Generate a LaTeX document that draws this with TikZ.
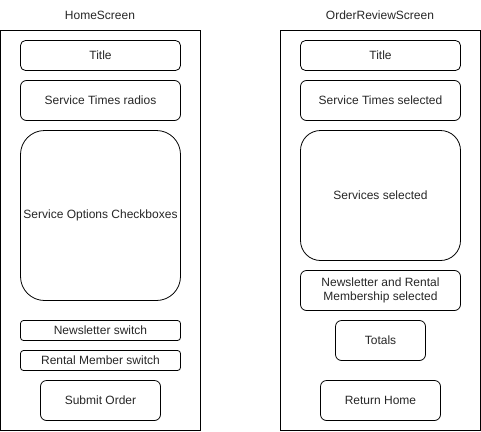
\documentclass[tikz,border=0pt]{standalone}
\usepackage{fontspec}
\setmainfont{Liberation Sans}
\begin{document}
\begin{tikzpicture}[x=1pt,y=-1pt,
  every node/.style={font=\fontsize{12}{14}\selectfont, text=black!85},
  frame/.style={draw, line width=0.8pt},
  rbox/.style={draw, line width=0.8pt, align=center}]
\useasboundingbox (0,0) rectangle (481,431);
% left
\node (hlabel) at (100,15) {HomeScreen};
\draw[frame] (0.5,30.5) rectangle (200.5,430.5);
\draw[rbox, rounded corners=5] (20.5,40.5) rectangle (180.5,70.5) node[midway] (t1) {Title};
\draw[rbox, rounded corners=6] (20.5,80.5) rectangle (180.5,120.5) node[midway] (st1) {Service Times radios};
\draw[rbox, rounded corners=24] (20.5,130.5) rectangle (180.5,300.5) node[midway] (so1) {Service Options Checkboxes};
\draw[rbox, rounded corners=3] (20.5,320.5) rectangle (180.5,340.5) node[midway] (nl1) {Newsletter switch};
\draw[rbox, rounded corners=3] (20.5,350.5) rectangle (180.5,370.5) node[midway] (rm1) {Rental Member switch};
\draw[rbox, rounded corners=6] (40.5,380.5) rectangle (160.5,420.5) node[midway] (sub) {Submit Order};
% right
\node (rlabel) at (380,15) {OrderReviewScreen};
\draw[frame] (280.5,30.5) rectangle (480.5,430.5);
\draw[rbox, rounded corners=5] (300.5,40.5) rectangle (460.5,70.5) node[midway] (t2) {Title};
\draw[rbox, rounded corners=6] (300.5,80.5) rectangle (460.5,120.5) node[midway] (st2) {Service Times selected};
\draw[rbox, rounded corners=20] (300.5,130.5) rectangle (460.5,260.5) node[midway] (ss2) {Services selected};
\draw[rbox, rounded corners=6] (300.5,270.5) rectangle (460.5,310.5);
\node[align=center] (nr2) at (380.5,290.5) {Newsletter and Rental\\Membership selected};
\draw[rbox, rounded corners=6] (335.5,320.5) rectangle (425.5,360.5) node[midway] (tot) {Totals};
\draw[rbox, rounded corners=6] (320.5,380.5) rectangle (440.5,420.5) node[midway] (rh) {Return Home};
\end{tikzpicture}
\end{document}
